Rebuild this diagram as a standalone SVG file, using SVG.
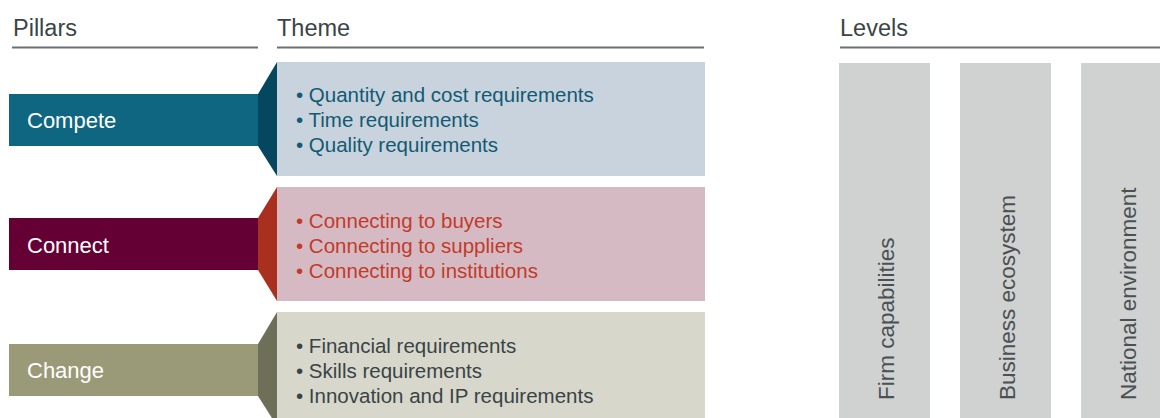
<svg xmlns="http://www.w3.org/2000/svg" width="1160" height="418" viewBox="0 0 1160 418">
<style>
text{font-family:"Liberation Sans",Arial,sans-serif}
.hd{font-size:23.5px;fill:#3b4446}
.ul{stroke:#6b7173;stroke-width:2}
.pl{font-size:22px;fill:#ffffff}
.it{font-size:20.5px}
.lv{fill:#cfd2d1}
.lt{font-size:22.5px;fill:#4b5052}
</style>
<rect width="1160" height="418" fill="#ffffff"/>
<g id="headers">
<text class="hd" x="13" y="36">Pillars</text>
<line class="ul" x1="12" y1="47.5" x2="258" y2="47.5"/>
<text class="hd" x="277" y="36">Theme</text>
<line class="ul" x1="277" y1="47.5" x2="704" y2="47.5"/>
<text class="hd" x="840" y="36">Levels</text>
<line class="ul" x1="840" y1="47.5" x2="1160" y2="47.5"/>
</g>
<g id="compete">
<rect x="9" y="94" width="250" height="52" fill="#0f6680"/>
<polygon points="258,94 277,62 277,176 258,146" fill="#05475e"/>
<rect x="277" y="62" width="428" height="114" fill="#c8d3de"/>
<text class="pl" x="27" y="128">Compete</text>
<g class="it" fill="#125a72">
<text x="296" y="102">• Quantity and cost requirements</text>
<text x="296" y="127">• Time requirements</text>
<text x="296" y="152">• Quality requirements</text>
</g>
</g>
<g id="connect">
<rect x="9" y="218" width="250" height="52" fill="#650035"/>
<polygon points="258,218 277,187 277,301 258,270" fill="#a9301f"/>
<rect x="277" y="187" width="428" height="114" fill="#d5bac3"/>
<text class="pl" x="27" y="253">Connect</text>
<g class="it" fill="#c23b2a">
<text x="296" y="227.5">• Connecting to buyers</text>
<text x="296" y="252.5">• Connecting to suppliers</text>
<text x="296" y="277.5">• Connecting to institutions</text>
</g>
</g>
<g id="change">
<rect x="9" y="344" width="250" height="52" fill="#9b9a78"/>
<polygon points="258,344 277,312 277,426 258,396" fill="#6e6f58"/>
<rect x="277" y="312" width="428" height="114" fill="#d8d7cb"/>
<text class="pl" x="27" y="378">Change</text>
<g class="it" fill="#394447">
<text x="296" y="352.5">• Financial requirements</text>
<text x="296" y="377.5">• Skills requirements</text>
<text x="296" y="402.5">• Innovation and IP requirements</text>
</g>
</g>
<g id="level-firm">
<rect class="lv" x="839" y="63" width="91" height="360"/>
<text class="lt" transform="translate(894,400) rotate(-90)">Firm capabilities</text>
</g>
<g id="level-business">
<rect class="lv" x="960" y="63" width="91" height="360"/>
<text class="lt" transform="translate(1015,400) rotate(-90)">Business ecosystem</text>
</g>
<g id="level-national">
<rect class="lv" x="1081" y="63" width="91" height="360"/>
<text class="lt" transform="translate(1136,400) rotate(-90)">National environment</text>
</g>
<g id="connectors"/>
</svg>
